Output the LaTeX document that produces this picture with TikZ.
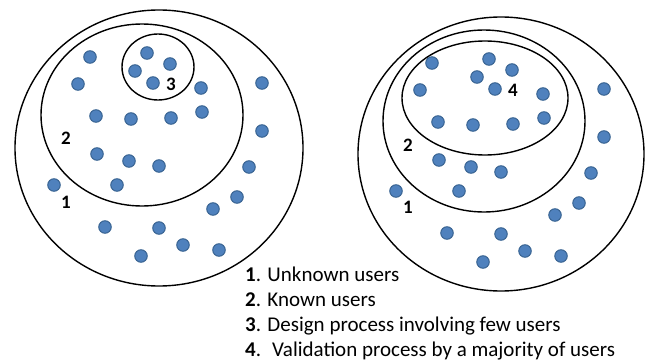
\documentclass[tikz,border=0pt]{standalone}
\usepackage{fontspec}
\setmainfont{Carlito}
\usetikzlibrary{positioning}

\definecolor{userblue}{RGB}{79,129,189}
\definecolor{userrim}{RGB}{56,99,145}

\tikzset{
  ring/.style={draw=black,line width=1.4pt},
  user/.style={circle,fill=userblue,draw=userrim,line width=1pt,inner sep=0pt,minimum size=12.5pt},
  tag/.style={font=\fontsize{19}{22}\selectfont\bfseries,inner sep=0pt},
  legend/.style={anchor=base west,inner sep=0pt,font=\fontsize{21}{24}\selectfont}
}

% the same crowd of users in both pictures
\newcommand{\crowd}[1]{%
  \foreach \p [count=\i] in {(90,57),(78,84),(147,53),(170,64),(135,71),(153,83),
      (201,88),(262,83),(96,116),(131,119),(171,118),(202,112),(262,131),
      (97,154),(129,161),(159,166),(249,167),(54,185),(117,185),(237,197),
      (213,209),(105,227),(159,228),(183,245),(219,250),(141,256)}
    \node[user] (#1\i) at \p {};%
}

\begin{document}
\begin{tikzpicture}[x=1pt,y=-1pt]
    \useasboundingbox (0,0) rectangle (647,361);

    % Left: design process
    \begin{scope}
        \coordinate (allA) at (159,148);
        \coordinate (knownA) at (142,115);
        \coordinate (fewA) at (158,67);
        \draw[ring] (allA) ellipse [x radius=144,y radius=138];
        \draw[ring] (knownA) ellipse [x radius=101,y radius=91];
        \draw[ring] (fewA) ellipse [x radius=36,y radius=33];
        \crowd{a}
        \node[tag] (threeA) at (171,84) {3};
        \node[tag] (twoA) at (66,138) {2};
        \node[tag] (oneA) at (66,202) {1};
    \end{scope}

    % Right: validation process
    \begin{scope}[shift={(342,6)}]
        \coordinate (allB) at (159,148);
        \coordinate (knownB) at (142,115);
        \coordinate (manyB) at (143,92);
        \draw[ring] (allB) ellipse [x radius=143,y radius=137];
        \draw[ring] (knownB) ellipse [x radius=101,y radius=91];
        \draw[ring] (manyB) ellipse [x radius=83,y radius=57];
        \crowd{b}
        \node[tag] (fourB) at (171,84) {4};
        \node[tag] (twoB) at (66,139) {2};
        \node[tag] (oneB) at (66,201) {1};
    \end{scope}

    % Legend
    \node[legend] (keyA) at (245,281) {\textbf{1}. Unknown users};
    \node[legend] (keyB) at (245,306) {\textbf{2}. Known users};
    \node[legend] (keyC) at (245,331) {\textbf{3}. Design process involving few users};
    \node[legend] (keyD) at (245,356) {\textbf{4}.~ Validation process by a majority of users};
\end{tikzpicture}
\end{document}
